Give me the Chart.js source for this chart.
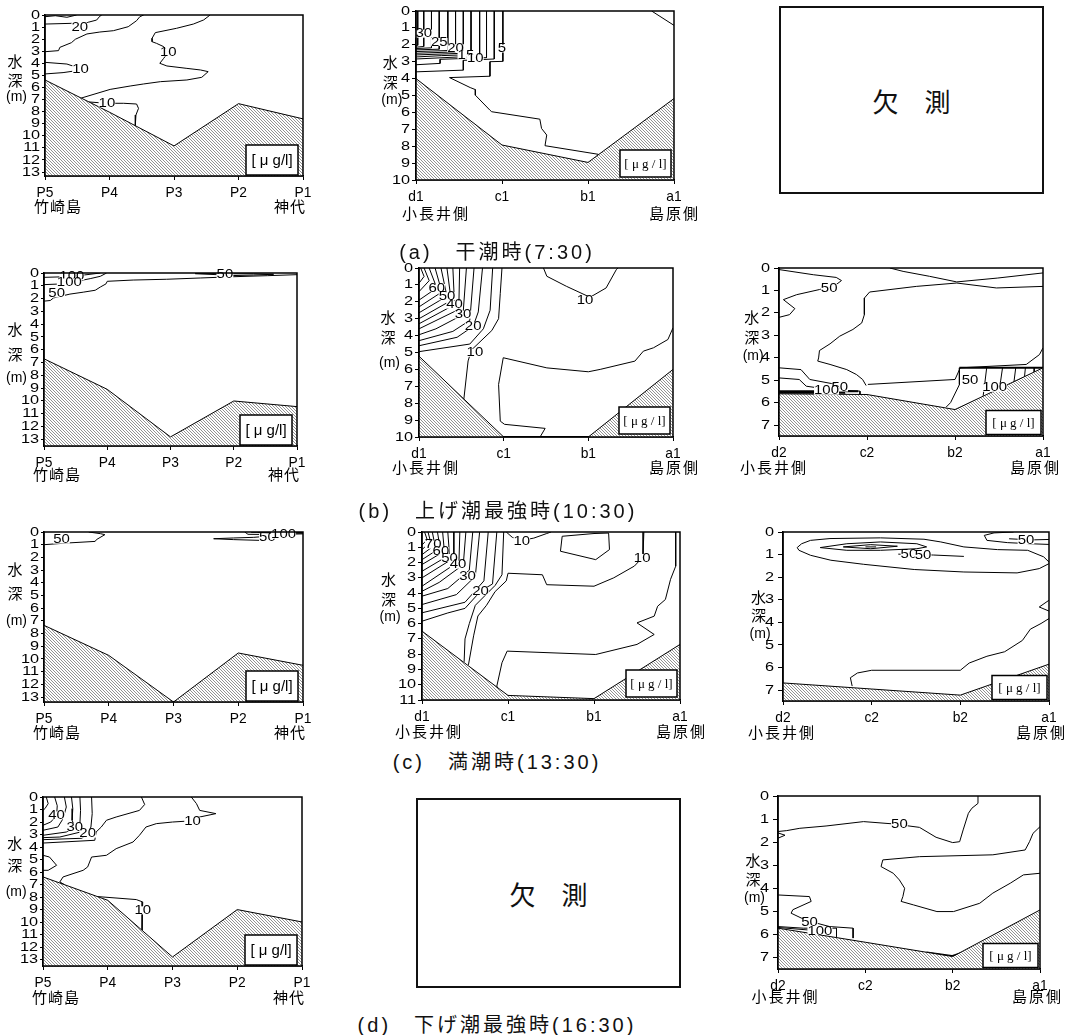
<!DOCTYPE html>
<html>
<head>
<meta charset="utf-8">
<script src="https://cdn.jsdelivr.net/npm/chart.js@4.4.0/dist/chart.umd.min.js"></script>
<style>
  body { margin: 0; background: #fff; }
  #page { position: relative; width: 1069px; height: 1035px; overflow: hidden; }
  canvas { position: absolute; }
  .missing { position: absolute; box-sizing: border-box; border: 2px solid #111; display: flex; align-items: center; justify-content: center;
             font-family: "Noto Sans CJK JP", sans-serif; font-size: 26px; color: #111; }
  .caption { position: absolute; transform: translate(-50%, -50%); white-space: nowrap; font-family: "Liberation Sans", "Noto Sans CJK JP", sans-serif;
             font-size: 20px; letter-spacing: 3px; color: #111; }
</style>
</head>
<body>
<div id="page"></div>
<script>
// station names along each section
const stationsP = ['P5', 'P4', 'P3', 'P2', 'P1'];
const stations1 = ['d1', 'c1', 'b1', 'a1'];
const stations2 = ['d2', 'c2', 'b2', 'a1'];

// seabed depth (m) at each station
const seabedA1 = [5.38, 8.05, 10.84, 7.34, 8.6];
const seabedA2 = [4.0, 7.93, 8.96, 5.18];
const seabedB1 = [6.71, 9.1, 12.82, 10.01, 10.45];
const seabedB2 = [5.22, 10, 10, 6.0];
const seabedB3 = [5.61, 5.64, 6.31, 4.45];
const seabedC1 = [7.35, 9.72, 13.39, 9.53, 10.5];
const seabedC2 = [6.49, 10.7, 10.91, 7.36];
const seabedC3 = [6.68, 6.95, 7.22, 5.85];
const seabedD1 = [6.39, 8.26, 12.79, 9.0, 9.99];
const seabedD3 = [5.73, 6.34, 6.96, 4.94];

// contour lines (μg/l): level, polyline [station index, depth], label positions
const contoursA1 = [
  { level: 30, pts: [[0, 0.14], [0.16, 0.06], [0.34, 0.19], [0.49, 0]] },
  { level: 20, pts: [[0, 0.75], [0.41, 0.69], [0.54, 1.0], [0.67, 0.6], [0.8, 0.42], [0.85, 0.1], [0.88, 0]], at: [[0.54, 1.0]] },
  { level: 15, pts: [[0, 3.04], [0.21, 2.95], [0.23, 2.68], [0.41, 2.29], [0.47, 2.01], [0.65, 1.57], [0.85, 1.41], [1.06, 1.3], [1.29, 0.97], [1.42, 0.47], [1.47, 0.14], [1.53, 0]] },
  { level: 10, pts: [[2.56, 0], [2.46, 0.41], [2.3, 0.75], [2.04, 1.1], [1.71, 1.46], [1.66, 1.93], [1.66, 2.21], [1.73, 2.35], [1.84, 2.62], [1.91, 3.09], [1.84, 3.59], [1.78, 4.0], [1.89, 4.22], [2.2, 4.42], [2.41, 4.55], [2.53, 4.69], [2.43, 5.16], [2.2, 5.38], [1.79, 5.52], [1.53, 5.71], [1.32, 5.88], [1.01, 6.16], [0.56, 6.88]], at: [[1.91, 3.09]] },
  { level: 10, pts: [[0, 3.92], [0.34, 4.06], [0.54, 4.42], [0.49, 4.61], [0.28, 4.77], [0, 4.88]], at: [[0.55, 4.5]] },
  { level: 10, pts: [[0.68, 7.2], [0.96, 7.31], [1.22, 7.31], [1.42, 7.37], [1.45, 7.73], [1.41, 8.28], [1.4, 9.17]], at: [[0.96, 7.31]] }
];

const contoursA2 = [
  { level: 32.5, pts: [[0.02, 0], [0.02, 2.03], [0, 2.06]] },
  { level: 30, pts: [[0.09, 0], [0.09, 2.1], [0, 2.14]], at: [[0.09, 1.34]] },
  { level: 27.5, pts: [[0.18, 0], [0.18, 2.18], [0, 2.22]] },
  { level: 25, pts: [[0.27, 0], [0.27, 2.26], [0, 2.3]], at: [[0.27, 1.83]] },
  { level: 22.5, pts: [[0.37, 0], [0.37, 2.34], [0, 2.4]] },
  { level: 20, pts: [[0.46, 0], [0.46, 2.42], [0, 2.5]], at: [[0.46, 2.2]] },
  { level: 17.5, pts: [[0.55, 0], [0.55, 2.5], [0, 2.6]] },
  { level: 15, pts: [[0.64, 0], [0.64, 2.58], [0.3, 2.64], [0, 2.72]], at: [[0.58, 2.6]] },
  { level: 12.5, pts: [[0.74, 0], [0.74, 2.66], [0, 2.84]] },
  { level: 10, pts: [[0.82, 0], [0.82, 2.76], [0.28, 2.86], [0.28, 3.1], [0, 3.18]], at: [[0.69, 2.8]] },
  { level: 7.5, pts: [[0.91, 0], [0.91, 2.84], [0.55, 2.92], [0.55, 3.5], [0, 3.6]] },
  { level: 5, pts: [[1.01, 0], [1.01, 2.98], [0.86, 3.0], [0.86, 3.86], [0.39, 3.94], [0.63, 4.53], [0.69, 4.65], [0.69, 4.98], [0.86, 5.87], [0.88, 5.96], [1.44, 6.4], [1.46, 6.95], [1.52, 7.34], [1.5, 7.97], [2.12, 8.48], [2.06, 8.85]], at: [[1.0, 2.22]] },
  { level: 5, pts: [[2.74, 0], [3.0, 0.85]] }
];

const contoursB1 = [
  { level: 100, pts: [[0, 0.34], [0.36, 0.29], [0.68, 0.13], [0.89, 0]], at: [[0.44, 0.25]] },
  { level: 100, pts: [[0, 0.91], [0.25, 0.86], [0.52, 0.65], [0.73, 0.44], [0.89, 0.26], [0.99, 0]], at: [[0.4, 0.74]] },
  { level: 50, pts: [[0, 2.2], [0.1, 2.15], [0.15, 1.95], [0.28, 1.8], [0.41, 1.65], [0.62, 1.5], [0.81, 1.35], [0.89, 1.1], [0.98, 0.85], [1.0, 0.65], [1.41, 0.55], [1.94, 0.49], [2.47, 0.39], [3.0, 0.29], [3.53, 0.21], [4.0, 0.13]], at: [[0.2, 1.6]] },
  { level: 50, pts: [[2.39, 0.05], [2.73, 0.13], [3.0, 0.2], [3.31, 0.16], [3.63, 0.1], [3.31, 0.06], [3.0, 0.06], [2.73, 0.05], [2.39, 0.05]], at: [[2.86, 0.13]] }
];

const contoursB2 = [
  { level: 70, pts: [[0.02, 0], [0.06, 0.5], [0, 0.9]] },
  { level: 65, pts: [[0.06, 0], [0.12, 0.75], [0, 1.4]] },
  { level: 60, pts: [[0.12, 0], [0.21, 1.18], [0, 1.9]], at: [[0.21, 1.18]] },
  { level: 55, pts: [[0.19, 0], [0.27, 1.42], [0, 2.3]] },
  { level: 50, pts: [[0.26, 0], [0.33, 1.67], [0, 2.65]], at: [[0.33, 1.67]] },
  { level: 45, pts: [[0.33, 0], [0.38, 1.92], [0, 3.0]] },
  { level: 40, pts: [[0.4, 0], [0.42, 2.17], [0, 3.3]], at: [[0.42, 2.17]] },
  { level: 35, pts: [[0.48, 0], [0.47, 2.45], [0, 3.6]] },
  { level: 30, pts: [[0.56, 0], [0.52, 2.76], [0.2, 3.6], [0, 3.95]], at: [[0.52, 2.76]] },
  { level: 25, pts: [[0.65, 0], [0.6, 3.1], [0.4, 3.75], [0, 4.3]] },
  { level: 20, pts: [[0.75, 0], [0.7, 2.6], [0.64, 3.45], [0.45, 4.1], [0, 4.6]], at: [[0.64, 3.45]] },
  { level: 15, pts: [[0.87, 0], [0.84, 2.5], [0.76, 3.6], [0.6, 4.5], [0, 4.95]] },
  { level: 10, pts: [[0.98, 0], [0.96, 1.5], [0.94, 3.0], [0.86, 3.7], [0.62, 4.85], [0.58, 5.5], [0.53, 7.75]], at: [[0.66, 5.02]] },
  { level: 10, pts: [[1.47, 0], [1.51, 0.49], [1.74, 1.08], [2.02, 1.73], [2.21, 1.18], [2.33, 0.1], [2.35, 0]], at: [[1.96, 1.9]] },
  { level: 5, pts: [[3.0, 3.54], [2.94, 4.23], [2.77, 4.72], [2.65, 4.92], [2.55, 5.51], [2.14, 6.0], [2.0, 6.14], [1.51, 5.91], [0.995, 5.31], [0.94, 6.89], [0.96, 9.06], [1.01, 9.25], [1.49, 9.49], [1.43, 10.0]] }
];

const contoursB3 = [
  { level: 50, pts: [[0, 0.07], [0.39, 0.3], [0.65, 0.42], [0.71, 0.56], [0.65, 0.74], [0.46, 0.96], [0.2, 1.19], [0.05, 1.41], [0.18, 1.81], [0.12, 2.08], [0, 2.2]], at: [[0.57, 0.9]] },
  { level: 50, pts: [[1.26, 0], [1.41, 0.15], [1.71, 0.37], [2.02, 0.62], [2.48, 0.45], [3.0, 0.22]] },
  { level: 50, pts: [[3.0, 0.82], [2.47, 0.89], [2.02, 0.67], [1.56, 0.82], [1.03, 1.07], [0.97, 1.34], [0.97, 2.08], [0.94, 2.45], [0.84, 2.74], [0.69, 3.04], [0.58, 3.38], [0.46, 3.68], [0.45, 4.01], [0.44, 4.15], [0.58, 4.3], [0.77, 4.53], [0.88, 4.75], [0.95, 4.97], [0.99, 5.24]] },
  { level: 50, pts: [[1.01, 5.19], [2.0, 4.97], [2.06, 4.45], [2.81, 4.3], [2.96, 3.86], [3.0, 3.56]] },
  { level: 50, pts: [[0, 4.45], [0.25, 4.53], [0.35, 4.97], [0.65, 5.19], [0.71, 5.42], [0.75, 5.6]], at: [[0.69, 5.33]] },
  { level: 100, pts: [[0, 4.9], [0.23, 4.97], [0.31, 5.27], [0.58, 5.42], [0.92, 5.49], [0.92, 5.64]] },
  { level: 100, pts: [[0, 5.5], [0.9, 5.5]], width: 2, at: [[0.54, 5.47]] },
  { level: 150, pts: [[0, 5.56], [0.75, 5.56]], width: 2 },
  { level: 50, pts: [[2.05, 4.45], [2.05, 5.2], [1.95, 6.0], [1.9, 6.2]], at: [[2.17, 5.0]] },
  { level: 100, pts: [[2.36, 4.45], [2.34, 5.1], [2.32, 5.7]], at: [[2.45, 5.34]] },
  { level: 150, pts: [[2.54, 4.45], [2.52, 5.0], [2.5, 5.38]] },
  { level: 200, pts: [[2.69, 4.45], [2.67, 5.08]] },
  { level: 250, pts: [[2.8, 4.45], [2.79, 4.84]] },
  { level: 300, pts: [[2.9, 4.45], [2.9, 4.66]] },
  { level: 300, pts: [[2.05, 4.45], [3.0, 4.45]], width: 2 }
];

const contoursC1 = [
  { level: 50, pts: [[0.69, 0], [0.87, 0.13], [0.94, 0.21], [0.81, 0.6], [0.79, 0.74], [0.35, 0.87], [0, 1.0]], at: [[0.27, 0.6]] },
  { level: 50, pts: [[2.62, 0.53], [2.93, 0.6], [3.34, 0.66], [3.44, 0.34], [3.24, 0.42], [2.93, 0.47], [2.62, 0.53]], at: [[3.45, 0.45]] },
  { level: 100, pts: [[3.1, 0], [3.15, 0.18], [3.5, 0.2], [4.0, 0.15]], at: [[3.7, 0.22]] },
  { level: 150, pts: [[3.3, 0.04], [3.6, 0.1], [4.0, 0.1]] },
  { level: 200, pts: [[3.2, 0.02], [4.0, 0.04]] }
];

const contoursC2 = [
  { level: 80, pts: [[0.03, 0], [0.06, 0.5], [0, 0.85]] },
  { level: 75, pts: [[0.07, 0], [0.1, 0.65], [0, 1.15]] },
  { level: 70, pts: [[0.12, 0], [0.15, 0.85], [0, 1.48]], at: [[0.13, 0.83]] },
  { level: 65, pts: [[0.18, 0], [0.21, 1.05], [0, 1.81]] },
  { level: 60, pts: [[0.24, 0], [0.26, 1.26], [0, 2.13]], at: [[0.22, 1.26]] },
  { level: 55, pts: [[0.3, 0], [0.32, 1.5], [0, 2.57]] },
  { level: 50, pts: [[0.37, 0], [0.37, 1.7], [0, 3.0]], at: [[0.32, 1.7]] },
  { level: 45, pts: [[0.44, 0], [0.43, 1.92], [0, 3.55]] },
  { level: 40, pts: [[0.51, 0], [0.48, 2.14], [0.2, 3.3], [0, 3.88]], at: [[0.42, 2.14]] },
  { level: 35, pts: [[0.59, 0], [0.55, 2.5], [0.3, 3.7], [0, 4.2]] },
  { level: 30, pts: [[0.67, 0], [0.62, 2.9], [0.4, 4.1], [0, 4.75]], at: [[0.53, 2.9]] },
  { level: 25, pts: [[0.77, 0], [0.72, 3.2], [0.5, 4.6], [0, 5.29]] },
  { level: 20, pts: [[0.87, 0], [0.82, 3.4], [0.68, 3.88], [0.5, 5.0], [0.3, 5.3], [0, 5.84]], at: [[0.68, 3.88]] },
  { level: 15, pts: [[0.95, 0], [0.93, 2.8], [0.85, 3.5], [0.62, 4.8], [0.55, 6.0], [0.5, 7.0], [0.49, 8.5]] },
  { level: 10, pts: [[0.98, 0], [1.05, 0.35], [1.16, 0.55], [1.3, 0.4], [1.45, 0.1], [1.5, 0]], at: [[1.16, 0.6]] },
  { level: 10, pts: [[1.63, 0.28], [2.0, 0.1], [2.17, 0.07], [2.18, 1.15], [2.02, 1.81], [1.61, 1.26], [1.63, 0.28]] },
  { level: 10, pts: [[2.58, 0], [2.57, 1.5], [2.55, 1.75], [2.47, 2.23], [2.23, 3.0], [2.0, 3.55], [1.45, 3.45], [1.4, 2.8], [1.0, 2.7], [0.98, 3.2], [0.85, 3.9], [0.75, 4.8], [0.65, 5.5], [0.6, 6.8], [0.54, 8.7]], at: [[2.56, 1.7]] },
  { level: 5, pts: [[2.95, 0], [2.95, 2.24], [2.89, 3.1], [2.83, 4.42], [2.74, 4.86], [2.7, 5.51], [2.5, 5.95], [2.7, 6.71], [2.5, 7.36], [2.02, 8.02], [0.99, 7.8], [0.93, 8.56], [0.87, 10.09], [0.91, 10.52]] }
];

const contoursC3 = [
  { level: 50, pts: [[3.0, 1.33], [2.94, 1.1], [2.76, 0.81], [2.42, 0.78], [2.04, 0.66], [1.78, 0.44], [1.59, 0.32], [1.1, 0.26], [0.53, 0.29], [0.31, 0.37], [0.21, 0.52], [0.16, 0.69], [0.18, 0.81], [0.31, 1.03], [0.54, 1.25], [0.91, 1.43], [1.48, 1.66], [2.04, 1.77], [2.64, 1.81], [2.89, 1.62], [3.0, 1.4]] },
  { level: 100, pts: [[0.42, 0.69], [0.72, 0.52], [1.1, 0.44], [1.51, 0.52], [1.62, 0.66], [1.51, 0.74], [1.1, 0.81], [0.72, 0.81], [0.42, 0.69]] },
  { level: 150, pts: [[0.68, 0.66], [0.99, 0.56], [1.29, 0.63], [0.99, 0.74], [0.68, 0.66]] },
  { level: 200, pts: [[0.93, 0.66], [1.05, 0.66]] },
  { level: 50, pts: [[1.3, 0.98], [1.7, 1.02], [2.04, 1.08]], at: [[1.42, 1.0], [1.58, 1.02]] },
  { level: 50, pts: [[2.6, 0], [2.38, 0.04], [2.27, 0.15], [2.3, 0.37], [2.53, 0.47], [2.79, 0.52], [3.0, 0.55]] },
  { level: 50, pts: [[2.55, 0.3], [2.8, 0.35], [3.0, 0.33]], at: [[2.74, 0.36]] },
  { level: 50, pts: [[3.0, 3.83], [2.91, 4.05], [2.79, 4.3], [2.7, 4.8], [2.5, 5.3], [2.3, 5.5], [2.1, 5.8], [2.0, 6.12], [1.0, 6.12], [0.84, 6.24], [0.76, 6.45], [0.78, 6.82]] },
  { level: 50, pts: [[3.0, 3.02], [2.89, 3.32], [3.0, 3.5]] }
];

const contoursD1 = [
  { level: 45, pts: [[0.05, 0], [0.08, 0.53], [0.03, 0.93], [0, 1.07]] },
  { level: 40, pts: [[0.18, 0], [0.22, 0.7], [0.21, 1.47], [0.12, 2.0], [0, 2.26]], at: [[0.21, 1.47]] },
  { level: 35, pts: [[0.33, 0], [0.36, 0.8], [0.31, 1.73], [0.23, 2.4], [0, 2.66]] },
  { level: 30, pts: [[0.44, 0], [0.46, 0.93], [0.45, 1.86], [0.49, 2.4], [0.36, 2.8], [0, 3.06]], at: [[0.49, 2.4]] },
  { level: 25, pts: [[0.57, 0], [0.58, 1.07], [0.57, 2.13], [0.62, 2.75], [0.26, 3.2], [0, 3.25]] },
  { level: 20, pts: [[0.75, 0], [0.76, 1.33], [0.74, 2.4], [0.69, 2.93], [0.6, 3.3], [0, 3.41]], at: [[0.69, 2.93]] },
  { level: 15, pts: [[1.52, 0], [1.57, 0.6], [1.49, 1.07], [1.13, 1.6], [0.98, 1.86], [0.9, 2.4], [0.82, 2.8], [0.8, 3.46], [0, 3.68]] },
  { level: 10, pts: [[2.29, 0], [2.37, 0.53], [2.42, 1.07], [2.67, 1.33], [2.42, 1.6], [2.31, 1.9], [2.0, 2.0], [1.75, 2.13], [1.59, 2.4], [1.49, 3.06], [1.39, 3.6], [1.13, 4.13], [0.98, 4.66], [0.75, 4.8], [0.69, 5.59], [0.62, 5.86], [0.31, 6.39], [0.26, 6.79], [0.33, 7.0]], at: [[2.31, 1.95]] },
  { level: 10, pts: [[0, 4.66], [0.1, 4.8], [0.21, 5.46], [0.08, 5.86], [0, 5.86]] },
  { level: 10, pts: [[0.84, 7.96], [1.44, 8.2], [1.54, 8.39], [1.53, 10.66]], at: [[1.54, 9.06]] }
];

const contoursD3 = [
  { level: 50, pts: [[0, 1.54], [0.1, 1.5], [0.25, 1.4], [0.55, 1.3], [0.98, 1.11], [1.32, 1.21], [1.62, 1.36], [1.81, 1.79], [2.0, 2.02], [2.08, 1.98], [2.12, 1.47], [2.18, 0.75], [2.22, 0.53], [2.29, 0.32], [2.29, 0]], at: [[1.39, 1.25]] },
  { level: 50, pts: [[0, 1.6], [0.08, 1.7], [0, 1.83]] },
  { level: 50, pts: [[3.0, 1.33], [2.92, 1.62], [2.88, 1.98], [2.83, 2.34], [2.46, 2.55], [1.62, 2.63], [1.2, 2.77], [1.18, 3.06], [1.32, 3.35], [1.39, 3.64], [1.45, 4.0], [1.43, 4.36], [1.41, 4.57], [1.55, 4.72], [1.82, 5.01], [2.01, 5.01], [2.31, 4.65], [2.46, 4.21], [2.66, 3.78], [2.81, 3.42], [3.0, 3.35]] },
  { level: 50, pts: [[0, 4.29], [0.36, 4.36], [0.38, 4.57], [0.17, 4.93], [0.15, 5.08], [0.31, 5.37], [0.44, 5.51], [0.59, 5.66], [0.86, 5.73], [0.86, 6.16]], at: [[0.36, 5.5]] },
  { level: 100, pts: [[0, 5.66], [0.29, 5.73], [0.67, 5.73], [0.67, 6.1]], at: [[0.48, 5.85]] },
  { level: 150, pts: [[0, 5.7], [0.48, 5.85], [0.6, 6.0]] },
  { level: 100, pts: [[1.7, 6.78], [1.99, 6.94], [2.12, 6.78]], width: 2 }
];

// per-column styling of axes and the unit box
const colStyle = {
  1: { gap: 5, tick: 3, spacing: '1px', unit: { w: 52, h: 30, r: 5, b: 1, text: '[ μ g/l]', font: '15px "Liberation Sans"' } },
  2: { gap: 6, tick: 4, spacing: '2px', unit: { w: 51, h: 27, r: 3, b: 3, text: '[ μ g / l]', font: '13px "Liberation Serif"' } },
  3: { gap: 9, tick: 5, spacing: '2px', unit: { w: 55, h: 24, r: 2, b: 1.5, text: '[ μ g / l]', font: '13px "Liberation Serif"' } }
};

const panels = [
  { stations: stationsP, seabed: seabedA1, contours: contoursA1, col: 1, left: 45, right: 302.7, top: 15, bottom: 176, maxDepth: 13.33, tickMax: 13,
    title: [-30, 46.7, 65.7, 81.7], sub: ['竹崎島', '神代', -11, 3, 30] },
  { stations: stations1, seabed: seabedA2, contours: contoursA2, col: 2, left: 415.7, right: 674, top: 10.7, bottom: 180, maxDepth: 10, tickMax: 10,
    title: [-25.7, 51, 71, 89.3], sub: ['小長井側', '島原側', -14, 26, 33] },
  { stations: stationsP, seabed: seabedB1, contours: contoursB1, col: 1, left: 44, right: 296.7, top: 273.3, bottom: 446.7, maxDepth: 13.53, tickMax: 13,
    title: [-29, 56.7, 81, 105], sub: ['竹崎島', '神代', -11, 3, 28.5] },
  { stations: stations1, seabed: seabedB2, contours: contoursB2, col: 2, left: 419, right: 673.3, top: 268.3, bottom: 437.7, maxDepth: 10, tickMax: 10,
    title: [-31, 49.7, 69.7, 94.7], sub: ['小長井側', '島原側', -27, 27, 30.6] },
  { stations: stations2, seabed: seabedB3, contours: contoursB3, col: 3, left: 779.3, right: 1043.3, top: 268.3, bottom: 436.7, maxDepth: 7.49, tickMax: 7,
    title: [-27.3, 49.7, 69, 87.7], sub: ['小長井側', '島原側', -39, 18, 31.6] },
  { stations: stationsP, seabed: seabedC1, contours: contoursC1, col: 1, left: 44, right: 302.7, top: 532.3, bottom: 702.3, maxDepth: 13.39, tickMax: 13,
    title: [-29, 37.7, 61.7, 89.4], sub: ['竹崎島', '神代', -11, 3, 30] },
  { stations: stations1, seabed: seabedC2, contours: contoursC2, col: 2, left: 421.7, right: 679.3, top: 532.3, bottom: 700.7, maxDepth: 11, tickMax: 11,
    title: [-33.4, 47, 67.7, 85.4], sub: ['小長井側', '島原側', -27, 27, 31] },
  { stations: stations2, seabed: seabedC3, contours: contoursC3, col: 3, left: 782.7, right: 1048.3, top: 531.7, bottom: 701, maxDepth: 7.48, tickMax: 7,
    title: [-24.4, 65, 83.3, 102.3], sub: ['小長井側', '島原側', -35, 18, 31] },
  { stations: stationsP, seabed: seabedD1, contours: contoursD1, col: 1, left: 43.3, right: 302.7, top: 796.7, bottom: 965.7, maxDepth: 13.51, tickMax: 13,
    title: [-28.3, 46, 68.3, 95], sub: ['竹崎島', '神代', -11, 3, 31.5] },
  { stations: stations2, seabed: seabedD3, contours: contoursD3, col: 3, left: 778.3, right: 1040, top: 796, bottom: 969.3, maxDepth: 7.5, tickMax: 7,
    title: [-25, 64, 83, 101.7], sub: ['小長井側', '島原側', -26.6, 23, 27.4] }
];

const captions = [
  { text: '(a)\u3000干潮時(7:30)', x: 497, y: 250 },
  { text: '(b)\u3000上げ潮最強時(10:30)', x: 498, y: 509 },
  { text: '(c)\u3000満潮時(13:30)', x: 497, y: 760 },
  { text: '(d)\u3000下げ潮最強時(16:30)', x: 497, y: 1023 }
];

const missing = [
  { left: 779, top: 6, width: 265, height: 188 },
  { left: 416, top: 798, width: 265, height: 190 }
];

const page = document.getElementById('page');
const PAD = { l: 48, t: 12, r: 30, b: 45 };
const NUM_FONT = '13px "Liberation Sans"';
const JP_FONT = '15px "Noto Sans CJK JP"';

// fine diagonal hatching for the seabed
const hatch = (() => {
  const tile = document.createElement('canvas');
  tile.width = 3; tile.height = 3;
  const g = tile.getContext('2d');
  g.fillStyle = '#fff';
  g.fillRect(0, 0, 3, 3);
  g.strokeStyle = '#777';
  g.lineWidth = 0.8;
  g.beginPath();
  g.moveTo(-1, -1); g.lineTo(4, 4);
  g.moveTo(-1, 2); g.lineTo(1, 4);
  g.moveTo(2, -1); g.lineTo(4, 1);
  g.stroke();
  return g.createPattern(tile, 'repeat');
})();

function drawText(ctx, text, x, y, font, align, sx) {
  ctx.save();
  ctx.font = font;
  ctx.textAlign = align;
  ctx.textBaseline = 'middle';
  ctx.translate(x, y);
  ctx.scale(sx, 1);
  ctx.fillText(text, 0, 0);
  ctx.restore();
}

function buildPanel(p) {
  const cs = colStyle[p.col];
  const cv = document.createElement('canvas');
  cv.width = Math.round(p.right - p.left + PAD.l + PAD.r);
  cv.height = Math.round(p.bottom - p.top + PAD.t + PAD.b);
  cv.style.left = Math.round(p.left - PAD.l) + 'px';
  cv.style.top = Math.round(p.top - PAD.t) + 'px';
  page.appendChild(cv);

  const datasets = [{
    data: p.seabed.map((d, i) => ({ x: i, y: d })),
    borderColor: '#000',
    borderWidth: 1,
    backgroundColor: hatch,
    fill: { value: p.maxDepth }
  }];
  p.contours.forEach(c => datasets.push({
    data: c.pts.map(([x, y]) => ({ x, y })),
    borderColor: '#000',
    borderWidth: c.width || 1,
    fill: false
  }));

  const decor = {
    id: 'decor',
    afterDraw(chart) {
      const ctx = chart.ctx;
      const a = chart.chartArea;
      const xs = chart.scales.x, ys = chart.scales.y;
      ctx.save();
      ctx.fillStyle = '#000';

      // contour values
      p.contours.forEach(c => (c.at || []).forEach(([x, y]) => {
        const px = xs.getPixelForValue(x), py = ys.getPixelForValue(y);
        ctx.font = NUM_FONT;
        const tw = ctx.measureText(String(c.level)).width * 1.15;
        ctx.fillStyle = '#fff';
        ctx.fillRect(px - tw / 2, py - 4, tw, 8);
        ctx.fillStyle = '#000';
        drawText(ctx, String(c.level), px, py, NUM_FONT, 'center', 1.15);
      }));

      // frame
      ctx.strokeStyle = '#000';
      ctx.lineWidth = 1.5;
      ctx.strokeRect(a.left, a.top, a.right - a.left, a.bottom - a.top);

      // depth ticks
      for (let d = 0; d <= p.tickMax; d++) {
        drawText(ctx, String(d), a.left - cs.gap, ys.getPixelForValue(d), NUM_FONT, 'right', 1.25);
      }
      // station ticks
      p.stations.forEach((s, i) => {
        drawText(ctx, s, xs.getPixelForValue(i), a.bottom + 16.5, '15px "Liberation Sans"', 'center', 0.92);
      });

      // unit box
      const u = cs.unit;
      const bx = a.right - u.r - u.w, by = a.bottom - u.b - u.h;
      ctx.fillStyle = '#fff';
      ctx.fillRect(bx, by, u.w, u.h);
      ctx.lineWidth = 1.5;
      ctx.strokeRect(bx, by, u.w, u.h);
      ctx.fillStyle = '#000';
      drawText(ctx, u.text, bx + u.w / 2, by + u.h / 2 + 1, u.font, 'center', 1);

      // depth axis title
      const [tx, t1, t2, t3] = p.title;
      drawText(ctx, '水', a.left + tx, a.top + t1, JP_FONT, 'center', 1);
      drawText(ctx, '深', a.left + tx, a.top + t2, JP_FONT, 'center', 1);
      drawText(ctx, '(m)', a.left + tx + 1.5, a.top + t3, '14px "Liberation Sans"', 'center', 1);

      // end-of-section place names
      const [lt, rt, ldx, rdx, sdy] = p.sub;
      ctx.letterSpacing = cs.spacing;
      drawText(ctx, lt, a.left + ldx, a.bottom + sdy, JP_FONT, 'left', 1);
      drawText(ctx, rt, a.right + rdx, a.bottom + sdy, JP_FONT, 'right', 1);
      ctx.letterSpacing = '0px';
      ctx.restore();
    }
  };

  new Chart(cv, {
    type: 'line',
    data: { datasets },
    options: {
      responsive: false,
      animation: false,
      devicePixelRatio: 1,
      layout: { padding: { top: PAD.t, right: PAD.r, left: 0, bottom: 0 } },
      elements: { point: { radius: 0 }, line: { tension: 0 } },
      plugins: { legend: { display: false }, tooltip: { enabled: false } },
      events: [],
      scales: {
        x: {
          type: 'linear', min: 0, max: p.stations.length - 1, bounds: 'data',
          ticks: { stepSize: 1, color: 'rgba(0,0,0,0)', autoSkip: false, maxRotation: 0 },
          grid: { drawOnChartArea: false, tickLength: 4, color: '#000' },
          border: { color: '#000', width: 1.5 },
          afterFit(s) { s.height = PAD.b; }
        },
        y: {
          type: 'linear', reverse: true, min: 0, max: p.maxDepth, bounds: 'data',
          ticks: { stepSize: 1, color: 'rgba(0,0,0,0)', includeBounds: false, autoSkip: false },
          grid: { drawOnChartArea: false, tickLength: cs.tick, color: '#000' },
          border: { color: '#000', width: 1.5 },
          afterFit(s) { s.width = PAD.l; }
        }
      }
    },
    plugins: [decor]
  });
}

panels.forEach(buildPanel);

captions.forEach(c => {
  const el = document.createElement('div');
  el.className = 'caption';
  el.textContent = c.text;
  el.style.left = c.x + 'px';
  el.style.top = c.y + 'px';
  page.appendChild(el);
});

missing.forEach(m => {
  const el = document.createElement('div');
  el.className = 'missing';
  el.style.left = m.left + 'px';
  el.style.top = m.top + 'px';
  el.style.width = m.width + 'px';
  el.style.height = m.height + 'px';
  el.textContent = '欠\u3000測';
  page.appendChild(el);
});
</script>
</body>
</html>
